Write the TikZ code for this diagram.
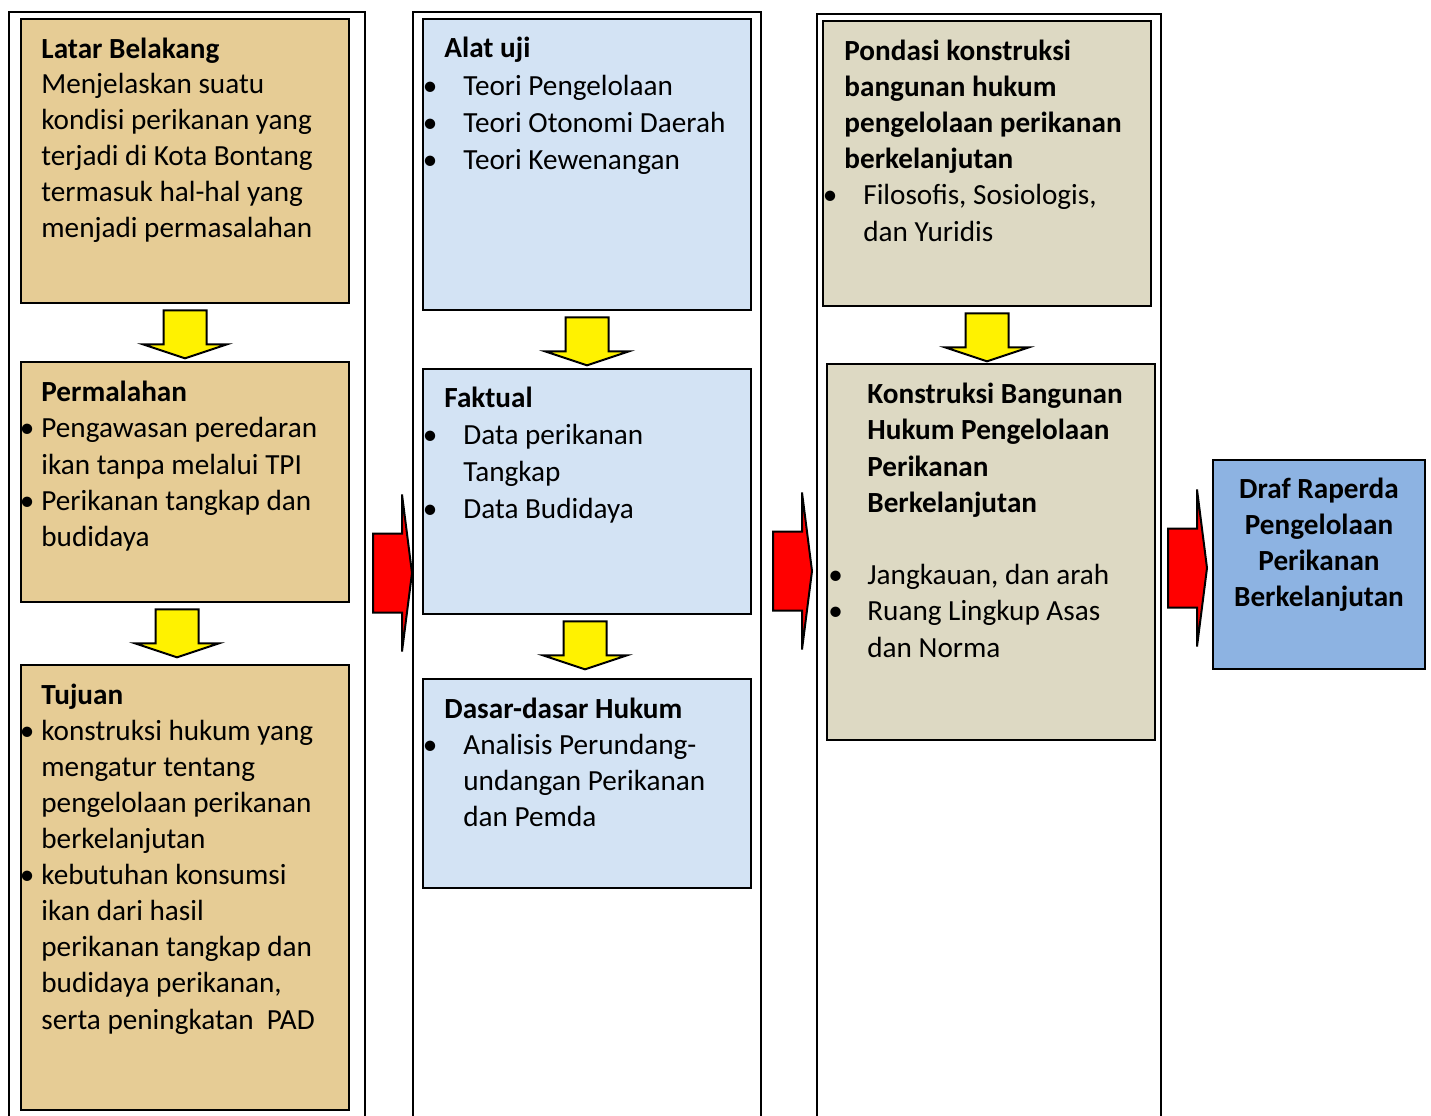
\documentclass[tikz,border=0pt]{standalone}
\usepackage{fontspec}
\setmainfont{Carlito}
\usetikzlibrary{fit, calc}
\definecolor{papyrus}{HTML}{E6CC95}
\definecolor{skyblue}{HTML}{D3E3F4}
\definecolor{khaki}{HTML}{DDD9C3}
\definecolor{draftblue}{HTML}{8DB3E2}
\newcommand{\bul}[1]{\llap{\textbullet\hspace{#1}}}

\begin{document}
\begin{tikzpicture}[x=0.5pt, y=-0.5pt,
    every node/.style={font=\fontsize{14.6}{18.1}\selectfont},
    column/.style={draw, line width=1pt, fill=white},
    box/.style={draw, line width=1.3pt, inner sep=0pt},
    txt/.style={align=left, anchor=base west, inner sep=0pt},
    yarrow/.style={draw, line width=1pt, fill=yellow, line join=miter},
    rarrow/.style={draw, line width=1pt, fill=red, line join=miter}]
    \useasboundingbox (0,0) rectangle (1431,1115);

    % columns
    \draw[column] (9,12) rectangle (365,1135);
    \draw[column] (413,12) rectangle (761,1135);
    \draw[column] (817,14) rectangle (1161,1135);

    % column 1 (text nodes sit on the baseline of their last line)
    \node[box, fill=papyrus, fit={(21,19) (349,303)}] (latar) {};
    \node[box, fill=papyrus, fit={(21,362) (349,602)}] (masalah) {};
    \node[box, fill=papyrus, fit={(21,665) (349,1110)}] (tujuan) {};

    \node[txt, font=\fontsize{14.6}{17.95}\selectfont] (latartext) at (41,237.5) {\textbf{Latar Belakang}\\Menjelaskan suatu\\kondisi perikanan yang\\terjadi di Kota Bontang\\termasuk hal-hal yang\\menjadi permasalahan};
    \node[txt, font=\fontsize{14.6}{18.1}\selectfont] (masalahtext) at (41,546.5) {\textbf{Permalahan}\\\bul{3.5pt}Pengawasan peredaran\\ikan tanpa melalui TPI\\\bul{3.5pt}Perikanan tangkap dan\\budidaya};
    \node[txt, font=\fontsize{14.6}{18.05}\selectfont] (tujuantext) at (41,1029) {\textbf{Tujuan}\\\bul{3.5pt}konstruksi hukum yang\\mengatur tentang\\pengelolaan perikanan\\berkelanjutan\\\bul{3.5pt}kebutuhan konsumsi\\ikan dari hasil\\perikanan tangkap dan\\budidaya perikanan,\\serta peningkatan\ \ PAD};

    % column 2
    \node[box, fill=skyblue, fit={(423,19) (751,310)}] (alat) {};
    \node[box, fill=skyblue, fit={(423,369) (751,614)}] (faktual) {};
    \node[box, fill=skyblue, fit={(423,679) (751,888)}] (dasar) {};

    \node[txt, font=\fontsize{14.6}{18.6}\selectfont] (alattext) at (444,169.5) {\textbf{Alat uji}\\\hspace*{9.5pt}\bul{13pt}Teori Pengelolaan\\\hspace*{9.5pt}\bul{13pt}Teori Otonomi Daerah\\\hspace*{9.5pt}\bul{13pt}Teori Kewenangan};
    \node[txt, font=\fontsize{14.6}{18.35}\selectfont] (faktualtext) at (444,518) {\textbf{Faktual}\\\hspace*{9.5pt}\bul{13pt}Data perikanan\\\hspace*{9.5pt}Tangkap\\\hspace*{9.5pt}\bul{13pt}Data Budidaya};
    \node[txt, font=\fontsize{14.6}{18}\selectfont] (dasartext) at (444,826) {\textbf{Dasar-dasar Hukum}\\\hspace*{9.5pt}\bul{13pt}Analisis Perundang-\\\hspace*{9.5pt}undangan Perikanan\\\hspace*{9.5pt}dan Pemda};

    % column 3
    \node[box, fill=khaki, fit={(823,21) (1151,306)}] (pondasi) {};
    \node[box, fill=khaki, fit={(827,364) (1155,740)}] (konstruksi) {};

    \node[txt] (pondasitext) at (844,241) {\textbf{Pondasi konstruksi}\\\textbf{bangunan hukum}\\\textbf{pengelolaan perikanan}\\\textbf{berkelanjutan}\\\hspace*{9.5pt}\bul{13pt}Filosofis, Sosiologis,\\\hspace*{9.5pt}dan Yuridis};
    \node[txt] (konstruksitext) at (867,657) {\textbf{Konstruksi Bangunan}\\\textbf{Hukum Pengelolaan}\\\textbf{Perikanan}\\\textbf{Berkelanjutan}\\[18.1pt]\bul{12.3pt}Jangkauan, dan arah\\\bul{12.3pt}Ruang Lingkup Asas\\dan Norma};

    % result
    \node[box, fill=draftblue, fit={(1213,460) (1425,669)}] (draf) {};
    \node[align=center, anchor=base, inner sep=0pt, font=\fontsize{14.6}{17.9}\selectfont\bfseries] (draftext) at (1319,606) {Draf Raperda\\Pengelolaan\\Perikanan\\Berkelanjutan};

    % yellow arrows down
    \foreach \from/\dx in {latar/0, masalah/-8, alat/0, faktual/-2, pondasi/0}
        \draw[yarrow] ($(\from.south)+(\dx-21.5,6)$) -- ++(43,0) -- ++(0,34) -- ++(20.5,0) -- ++(-42,14) -- ++(-42,-14) -- ++(20.5,0) -- cycle;

    % red arrows between columns
    \foreach \x/\y in {373/573, 773/571, 1168/568}
        \draw[rarrow] (\x,\y-39.5) -- ++(29,0) -- ++(0,-39) -- ++(10,78.5) -- ++(-10,78.5) -- ++(0,-39) -- ++(-29,0) -- cycle;
\end{tikzpicture}
\end{document}
